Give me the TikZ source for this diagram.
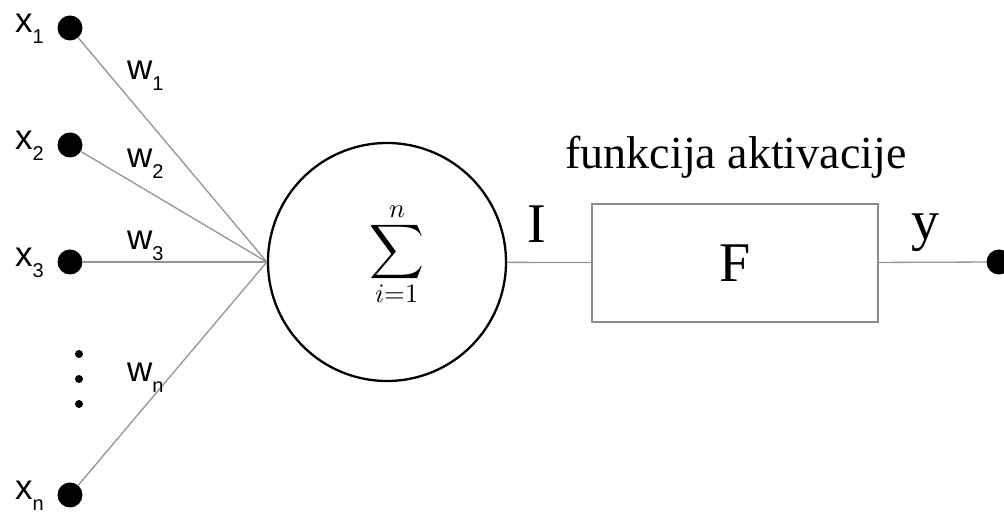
\documentclass[tikz,border=0pt]{standalone}
\usepackage{unicode-math}
\setmathfont{Latin Modern Math}
\newfontfamily\lblfont{Liberation Sans}
\newfontfamily\txtfont{Liberation Serif}
\usetikzlibrary{positioning,calc}
\tikzset{
  inpt/.style={circle, fill=black, inner sep=0pt, minimum size=25pt},
  wire/.style={line width=1.3pt, black!42},
  inlbl/.style={inner sep=0pt, font=\lblfont\fontsize{35}{35}\selectfont},
  serif/.style={inner sep=0pt, font=\txtfont\fontsize{56}{56}\selectfont},
  sumnode/.style={circle, draw, line width=2.3pt, minimum size=238pt, inner sep=0pt},
  actbox/.style={draw=black!45, line width=1.8pt, minimum width=286pt, minimum height=118pt,
    inner sep=0pt, font=\txtfont\fontsize{56}{56}\selectfont},
}
\newcommand{\lblsub}[2]{#1\raisebox{-0.3em}{\fontsize{20}{20}\selectfont #2}}

\begin{document}
\begin{tikzpicture}[x=1pt,y=1pt]
  \useasboundingbox (0,0) rectangle (1004,513);
  % inputs and their labels
  \foreach \n/\yy in {1/485, 2/368, 3/251, n/18} {
    \node[inpt] (x\n) at (70,\yy) {};
    \node[inlbl, anchor=base east] (lx\n) at ([xshift=-26pt,yshift=-5pt]x\n.center) {\lblsub{x}{\n}};
  }
  % vertical dots
  \foreach \yy in {159,134,109}
    \fill (79,\yy) circle (4);
  % summation
  \node[sumnode] (sum) at (387,251) {};
  \node[inner sep=0pt, font=\fontsize{38}{38}\selectfont] (sumtxt) at (397,259) {$\displaystyle\sum_{i=1}^{n}$};
  \foreach \n in {1,2,3,n}
    \draw[wire] (x\n) -- (sum.west);
  % weights
  \node[inlbl, anchor=base west] (w1) at (127,433) {\lblsub{w}{1}};
  \node[inlbl, anchor=base west] (w2) at (127,345) {\lblsub{w}{2}};
  \node[inlbl, anchor=base west] (w3) at (127,263) {\lblsub{w}{3}};
  \node[inlbl, anchor=base west] (wn) at (127,131) {\lblsub{w}{n}};
  % activation function
  \node[actbox] (act) at (735,250) {F};
  \node[inpt] (out) at (999,251) {};
  \draw[wire] (sum) -- (act);
  \draw[wire] (act) -- (out);
  \node[serif, anchor=base] (lI) at (537,270) {I};
  \node[serif, anchor=base] (ly) at (925,273) {y};
  \node[inner sep=0pt, anchor=base, font=\txtfont\fontsize{46}{46}\selectfont] (lact) at (736,344) {funkcija aktivacije};
\end{tikzpicture}
\end{document}
